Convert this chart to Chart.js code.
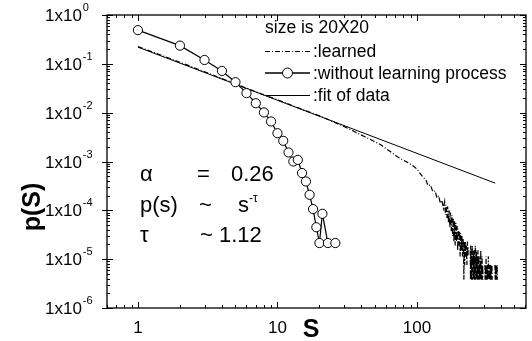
<!DOCTYPE html>
<html><head><meta charset="utf-8">
<script src="https://cdn.jsdelivr.net/npm/chart.js@4/dist/chart.umd.min.js"></script>
<style>html,body{margin:0;padding:0;background:#fff}#wrap{width:532px;height:341px;position:relative}</style>
</head><body><div id="wrap"><canvas id="c" width="532" height="341"></canvas></div>
<script>
// ---- data ----
const xTickValues = [1, 10, 100];
const xTickLabels = ['1', '10', '100'];
const yTickExponents = [0, -1, -2, -3, -4, -5, -6];

// "without learning process" (open circles)
const noLearnS = [1, 2, 3, 4, 5, 6, 7, 8, 9, 10, 11, 12, 13, 14, 15, 16, 17, 18, 19, 20, 21, 23, 26];
const noLearnP = [0.49, 0.236, 0.12, 0.0716, 0.0421, 0.0251, 0.0156, 0.0101, 0.0066, 0.0038, 0.00265,
  0.00153, 0.00100, 0.00108, 0.00058, 0.00039, 0.000208, 0.000106, 4.5e-5, 2.14e-5, 8.5e-5, 2.14e-5, 2.14e-5];

// "learned" (dash-dot)
const learnedS = [1, 1.5, 2, 3, 4, 5, 6, 7, 8, 10, 12, 15, 20, 24, 30, 35, 42, 48, 55, 62, 72, 82, 88, 95,
  100, 104, 108, 112, 116, 120, 125, 130, 135, 139, 143, 147, 151, 155,
  158, 160, 162, 164, 166, 168, 170, 172, 174, 176, 178, 180, 182, 184, 186, 188, 190, 192, 194, 196, 198,
  200, 202, 204, 206, 208, 210, 212, 214, 216, 217, 218, 220, 222, 224, 226, 228, 230, 232, 234, 236,
  241, 242, 243, 244, 245, 246, 247, 248, 249, 250, 252, 253, 254, 255, 256, 257, 258, 259, 261, 262, 263,
  265, 266, 267, 268, 270, 271, 272, 274, 275, 277, 278, 280, 281, 283, 284, 286, 287, 288, 290, 291, 293,
  294, 296, 298, 299,
  307, 308, 310, 311, 313, 314, 316, 318, 320, 322, 325, 327, 330, 332, 335, 337, 340, 342, 345, 346, 347,
  362, 364, 366, 368, 371, 373, 376, 377];
const learnedP = [0.225, 0.147, 0.108, 0.069, 0.050, 0.0388, 0.0318, 0.0268, 0.0232, 0.0183, 0.0150, 0.0117,
  0.0086, 0.0069, 0.0052, 0.0042, 0.00324, 0.0027, 0.0022, 0.00172, 0.00127, 0.00102, 0.00092, 0.00079,
  0.00070, 0.00060, 0.00052, 0.00046, 0.00042, 0.00032, 0.00033, 0.00024, 0.00025, 0.00018, 0.00020, 0.00014,
  0.00016, 0.00011,
  1.5e-4, 8.0e-5, 1.3e-4, 7.0e-5, 1.2e-4, 5.5e-5, 1.0e-4, 4.5e-5, 9.0e-5, 3.8e-5, 8.0e-5, 3.0e-5, 7.0e-5,
  2.3e-5, 6.0e-5, 1.9e-5, 5.5e-5, 2.3e-5, 4.8e-5, 1.5e-5, 4.2e-5,
  1.9e-5, 3.8e-5, 1.14e-5, 3.4e-5, 1.5e-5, 3.0e-5, 1.14e-5, 2.7e-5, 1.5e-5, 3.8e-6, 2.3e-5, 7.6e-6, 2.3e-5,
  1.14e-5, 1.9e-5, 7.6e-6, 2.3e-5, 1.14e-5, 1.9e-5, null,
  1.52e-5, 3.8e-6, 1.9e-5, 7.6e-6, 1.14e-5, 3.8e-6, 1.52e-5, 7.6e-6, 1.9e-5, 3.8e-6, 1.14e-5, 3.8e-6,
  1.52e-5, 7.6e-6, 1.14e-5, 3.8e-6, 1.52e-5, 3.8e-6, 7.6e-6, 1.9e-5, 3.8e-6,
  1.14e-5, 3.8e-6, 1.52e-5, 7.6e-6, 1.14e-5, 3.8e-6, 7.6e-6, 1.52e-5, 3.8e-6, 1.14e-5, 3.8e-6, 7.6e-6,
  3.8e-6, 1.14e-5, 3.8e-6, 7.6e-6, 1.52e-5, 3.8e-6, 7.6e-6, 3.8e-6, 1.14e-5,
  3.8e-6, 7.6e-6, 3.8e-6, null,
  7.6e-6, 3.8e-6, 7.6e-6, 3.8e-6, 1.14e-5, 3.8e-6, 7.6e-6, 3.8e-6, 7.6e-6, 3.8e-6, 1.14e-5, 3.8e-6,
  7.6e-6, 3.8e-6, 7.6e-6, 3.8e-6, 7.6e-6, 3.8e-6, 7.6e-6, 3.8e-6, null,
  7.6e-6, 3.8e-6, 7.6e-6, 3.8e-6, 7.6e-6, 3.8e-6, 7.6e-6, 3.8e-6];

// "fit of data" (solid straight line on log-log axes)
const fitS = [1, 364];
const fitP = [0.22, 3.6e-4];

// legend / annotation text
const legendTitle = 'size is 20X20';
const legendLabels = [':learned', ':without learning process', ':fit of data'];

const toXY = (xs, ys) => xs.map((s, i) => ({ x: s, y: ys[i] }));
const FONT = '"Liberation Sans", Arial, Helvetica, sans-serif';

const decorPlugin = {
  id: 'decor',
  afterDraw(chart) {
    const ctx = chart.ctx, a = chart.chartArea;
    const xs = chart.scales.x, ys = chart.scales.y;
    ctx.save();
    ctx.strokeStyle = '#000';
    ctx.fillStyle = '#000';
    // frame
    ctx.lineWidth = 1.3;
    ctx.strokeRect(a.left, a.top, a.right - a.left, a.bottom - a.top);
    ctx.lineWidth = 1;
    ctx.beginPath();
    // x ticks (bottom + top, inward)
    for (let e = -1; e <= 2; e++) {
      for (let m = 1; m <= 9; m++) {
        const v = m * Math.pow(10, e);
        if (v < xs.min || v > xs.max) continue;
        const px = Math.round(xs.getPixelForValue(v)) + 0.5;
        const len = m === 1 ? 6 : 3;
        ctx.moveTo(px, a.bottom); ctx.lineTo(px, a.bottom - len);
        ctx.moveTo(px, a.top); ctx.lineTo(px, a.top + len);
      }
    }
    // y ticks (left + right, inward; majors also outward on left)
    for (let e = -6; e <= 0; e++) {
      for (let m = 1; m <= 9; m++) {
        const v = m * Math.pow(10, e);
        if (v < ys.min * 0.999 || v > ys.max * 1.001) continue;
        const py = Math.round(ys.getPixelForValue(v)) + 0.5;
        const len = m === 1 ? 6 : 3;
        ctx.moveTo(a.left + (m === 1 ? -5 : 0), py); ctx.lineTo(a.left + len, py);
        ctx.moveTo(a.right, py); ctx.lineTo(a.right - len, py);
      }
    }
    ctx.stroke();

    // y tick labels 1x10^n
    yTickExponents.forEach(ex => {
      const py = ys.getPixelForValue(Math.pow(10, ex));
      ctx.font = '17px ' + FONT;
      ctx.textAlign = 'left'; ctx.textBaseline = 'alphabetic';
      ctx.fillText('1x10', 45, py + 6);
      const w = ctx.measureText('1x10').width;
      ctx.font = '11px ' + FONT;
      ctx.fillText(String(ex), 45 + w + 1, py - 4);
    });
    // x tick labels
    ctx.font = '17px ' + FONT;
    ctx.textAlign = 'center';
    xTickValues.forEach((v, i) => {
      ctx.fillText(xTickLabels[i], xs.getPixelForValue(v), 333);
    });
    // axis titles
    ctx.font = 'bold 25px ' + FONT;
    ctx.fillText('S', 311, 337);
    ctx.save();
    ctx.translate(40, 207);
    ctx.rotate(-Math.PI / 2);
    ctx.fillText('p(S)', 0, 0);
    ctx.restore();

    // legend
    ctx.textAlign = 'left';
    ctx.font = '17.5px ' + FONT;
    const lx0 = 265, lx1 = 310, tx = 313;
    ctx.fillText(legendTitle, 265, 33);
    const rows = [51, 73, 95];
    // learned sample
    ctx.setLineDash([5, 2, 1, 2]); ctx.lineWidth = 1;
    ctx.beginPath(); ctx.moveTo(lx0, rows[0] + 0.5); ctx.lineTo(lx1, rows[0] + 0.5); ctx.stroke();
    ctx.setLineDash([]);
    ctx.fillText(legendLabels[0], tx, rows[0] + 6);
    // circle sample
    ctx.lineWidth = 1.3;
    ctx.beginPath(); ctx.moveTo(lx0, rows[1]); ctx.lineTo(lx1, rows[1]); ctx.stroke();
    ctx.beginPath(); ctx.arc((lx0 + lx1) / 2, rows[1], 5, 0, Math.PI * 2);
    ctx.fillStyle = '#fff'; ctx.fill(); ctx.lineWidth = 1; ctx.stroke();
    ctx.fillStyle = '#000';
    ctx.fillText(legendLabels[1], tx, rows[1] + 6);
    // fit sample
    ctx.beginPath(); ctx.moveTo(lx0, rows[2] + 0.5); ctx.lineTo(lx1, rows[2] + 0.5); ctx.stroke();
    ctx.fillText(legendLabels[2], tx, rows[2] + 6);

    // annotation
    ctx.font = '22px ' + FONT;
    ctx.fillText('\u03b1', 140, 181);
    ctx.fillText('=', 197, 181);
    ctx.fillText('0.26', 231, 181);
    ctx.fillText('p(s)', 140, 212);
    ctx.fillText('~', 199, 212);
    ctx.fillText('s', 238, 212);
    ctx.font = '12px ' + FONT;
    ctx.fillText('-\u03c4', 249, 202);
    ctx.font = '22px ' + FONT;
    ctx.fillText('\u03c4', 140, 242);
    ctx.fillText('~ 1.12', 200, 242);
    ctx.restore();
  }
};

new Chart(document.getElementById('c'), {
  type: 'scatter',
  data: {
    datasets: [
      {
        label: 'without learning process',
        data: toXY(noLearnS, noLearnP),
        showLine: true,
        borderColor: '#000', borderWidth: 1.2,
        pointRadius: 4.6, pointBorderWidth: 1, pointBackgroundColor: '#fff', pointBorderColor: '#000'
      },
      {
        label: 'learned',
        data: toXY(learnedS, learnedP),
        showLine: true, spanGaps: false,
        borderColor: '#000', borderWidth: 1.2, borderDash: [5, 2, 1, 2],
        pointRadius: 0
      },
      {
        label: 'fit of data',
        data: toXY(fitS, fitP),
        showLine: true,
        borderColor: '#000', borderWidth: 1,
        pointRadius: 0
      }
    ]
  },
  options: {
    responsive: false, animation: false, devicePixelRatio: 1,
    layout: { padding: { left: 107, right: 6, top: 15, bottom: 33 } },
    plugins: { legend: { display: false }, tooltip: { enabled: false } },
    scales: {
      x: { type: 'logarithmic', min: 0.615, max: 605, display: false },
      y: { type: 'logarithmic', min: 1e-6, max: 1, display: false }
    }
  },
  plugins: [decorPlugin]
});
</script></body></html>
